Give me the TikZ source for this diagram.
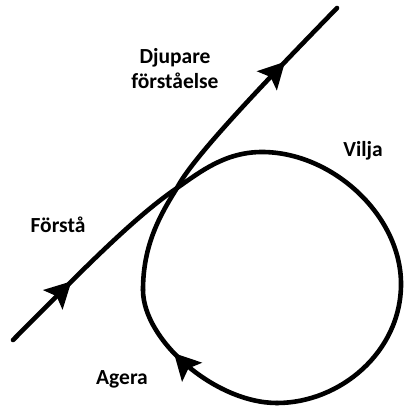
\documentclass[tikz,border=0pt]{standalone}
\usepackage{fontspec}
\setmainfont{Carlito}
\usetikzlibrary{arrows.meta,decorations.markings}
\tikzset{
  curve/.style={line width=4.6pt, line cap=round},
  head/.style={postaction={decorate}, decoration={markings, mark=at position #1 with {\arrow{Stealth[length=26pt,width=27pt,inset=5pt]}}}},
  lbl/.style={font=\fontsize{21.5}{25}\selectfont\bfseries, inner sep=0pt, align=center}
}
\begin{document}
\begin{tikzpicture}[x=1pt,y=-1pt]
\useasboundingbox (0,0) rectangle (404,409);
\coordinate (S) at (13,340);
\coordinate (C) at (177,188);
\coordinate (T) at (262,152);
\coordinate (R) at (401,284);
\coordinate (B) at (277,403);
\coordinate (L) at (143,290);
\coordinate (E) at (337,8);
% main incoming line
\draw[curve, head=0.37] (S) .. controls (70,283) and (130,220) .. (C);
% loop
\draw[curve] (C) .. controls (200,172) and (225,152) .. (T)
  .. controls (332,152) and (401,215) .. (R)
  .. controls (401,352) and (340,403) .. (B);
\draw[curve, head=0.62] (B) .. controls (215,403) and (143,340) .. (L);
\draw[curve] (L) .. controls (143,245) and (160,215) .. (C);
% outgoing line
\draw[curve, head=0.69] (C) .. controls (192,158) and (265,82) .. (E);
% labels
\node[lbl] (djup) at (175,69) {Djupare\\förståelse};
\node[lbl] (vilja) at (363,151) {Vilja};
\node[lbl] (forsta) at (58,225) {Förstå};
\node[lbl] (agera) at (122,379) {Agera};
\end{tikzpicture}
\end{document}
